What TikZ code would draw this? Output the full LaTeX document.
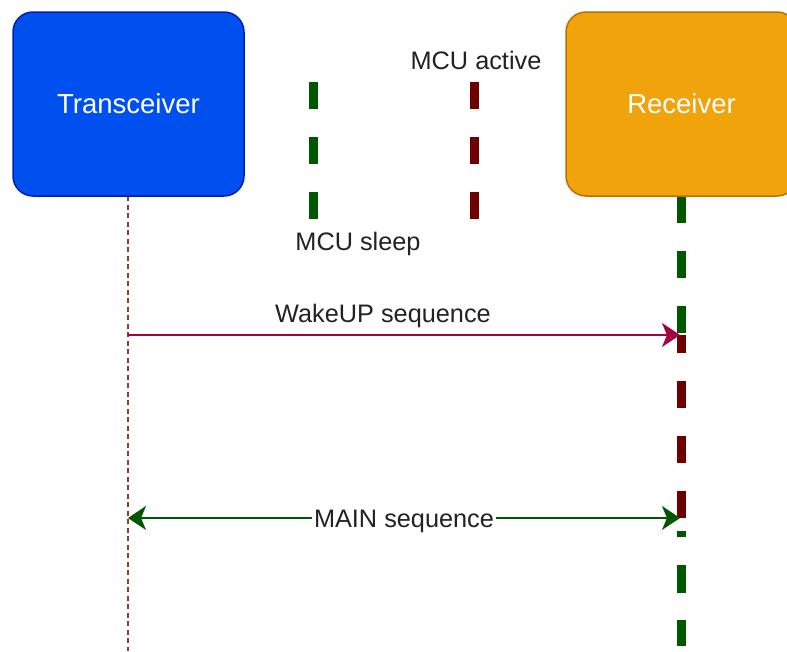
\documentclass[tikz,border=0pt]{standalone}
\usepackage{fontspec}
\setmainfont{Liberation Sans}
\usetikzlibrary{arrows.meta}
\definecolor{trxfill}{HTML}{0050EF}
\definecolor{trxdraw}{HTML}{001DBC}
\definecolor{rcvfill}{HTML}{F0A30A}
\definecolor{rcvdraw}{HTML}{BD7000}
\definecolor{sleepgreen}{HTML}{005700}
\definecolor{activered}{HTML}{6F0000}
\definecolor{wakecol}{HTML}{A50040}
\definecolor{lifebrown}{HTML}{9A3B1C}
\definecolor{txtgray}{HTML}{222222}
\tikzset{
  actor/.style={rounded corners=20pt, line width=1.5pt, minimum width=231pt, minimum height=184pt,
    inner sep=0pt, text=white, font=\fontsize{27.5}{32}\selectfont, text height=19.7pt, text depth=0pt},
  lbl/.style={text=txtgray, font=\fontsize{25.3}{29}\selectfont, inner sep=0pt, text height=18.1pt, text depth=0pt},
  sleepdash/.style={draw=sleepgreen, line width=9pt, dash pattern=on 27pt off 28pt},
  activedash/.style={draw=activered, line width=9pt, dash pattern=on 27pt off 28pt},
  tipshape/.tip={Stealth[length=18pt, width=24pt, inset=5pt]},
}
\begin{document}
\begin{tikzpicture}[x=1pt, y=-1pt]
\useasboundingbox (0,0) rectangle (787,651);
\begin{scope}
\clip (0,0) rectangle (787,651);
% lifeline coordinates
\coordinate (trxlow) at (128,196);
\coordinate (trxend) at (128,651);
\coordinate (rcvlow) at (681,196);
\coordinate (rcvwake) at (681,335);
\coordinate (rcvmain) at (681,519);
\coordinate (rcvgreen) at (681,531);
\coordinate (rcvend) at (681,646);
\coordinate (trxwake) at (128,335);
\coordinate (wakeend) at (680,335);
\coordinate (trxmain) at (128,518);
\coordinate (mainend) at (680,518);
% legend coordinates
\coordinate (sleeptop) at (313,82);
\coordinate (sleepbot) at (313,219);
\coordinate (activetop) at (474,82);
\coordinate (activebot) at (474,219);

% transceiver lifeline
\draw[lifebrown, line width=2.2pt, dash pattern=on 5pt off 3.5pt] (trxlow) -- (trxend);
% receiver lifeline
\draw[sleepdash] (rcvlow) -- (rcvwake);
\draw[activedash, dash phase=9pt] (rcvwake) -- (rcvmain);
\draw[draw=sleepgreen, line width=9pt, dash pattern=on 6pt off 28pt on 28pt off 27pt on 40pt] (rcvgreen) -- (rcvend);

% legend
\draw[sleepdash] (sleeptop) -- (sleepbot);
\draw[activedash] (activetop) -- (activebot);
\node[lbl] (activelbl) at (476,60) {MCU active};
\node[lbl] (sleeplbl) at (358,241) {MCU sleep};

% actors
\node[actor, fill=trxfill, draw=trxdraw] (trx) at (128.5,104) {Transceiver};
\node[actor, fill=rcvfill, draw=rcvdraw] (rcv) at (681.5,104) {Receiver};

% messages
\draw[wakecol, line width=2pt, -{tipshape}] (trxwake) -- (wakeend);
\node[lbl] (wakelbl) at (383,313.5) {WakeUP sequence};
\draw[sleepgreen, line width=2pt, {tipshape}-{tipshape}] (trxmain) -- (mainend);
\node[lbl, fill=white, inner xsep=2pt, inner ysep=3pt] (mainlbl) at (404,518) {MAIN sequence};
\end{scope}
\end{tikzpicture}
\end{document}
